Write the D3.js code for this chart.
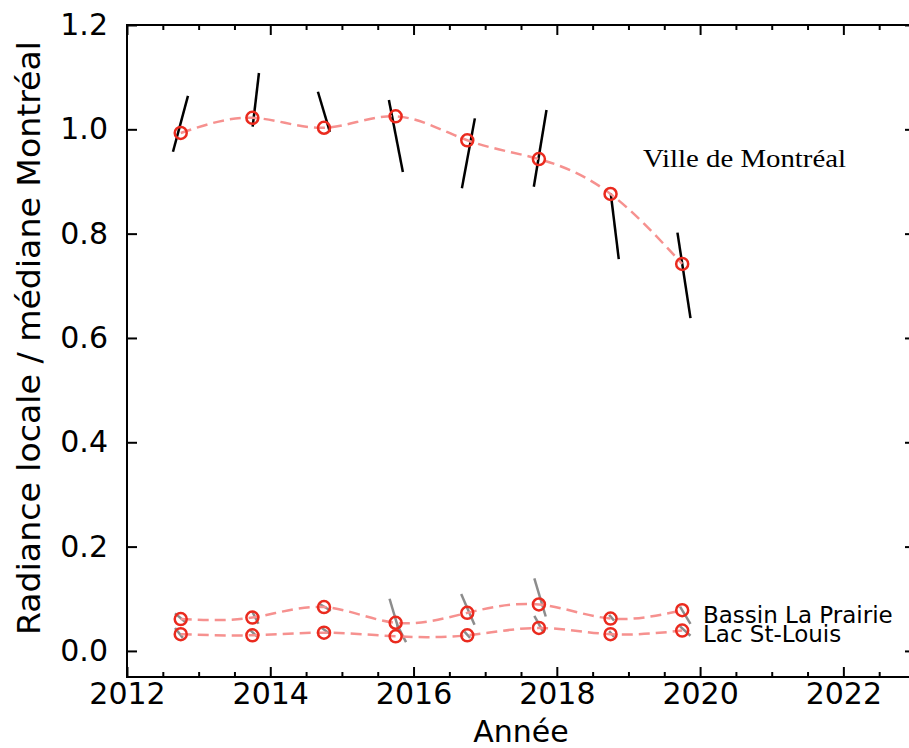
<!DOCTYPE html>
<html>
<head>
<meta charset="utf-8">
<script src="https://cdn.jsdelivr.net/npm/d3@7"></script>
<style>
  html, body { margin: 0; padding: 0; background: #fff; }
  svg { display: block; }
  .tick text { font-family: "DejaVu Sans", sans-serif; }
</style>
</head>
<body>
<svg id="chart" width="909" height="748"></svg>
<script>
// Observation years (measurement taken in autumn of each year)
const years = [2012.75, 2013.75, 2014.75, 2015.75, 2016.75, 2017.75, 2018.75, 2019.75];

// Local radiance divided by Montréal median
const villeValues  = [0.993, 1.022, 1.003, 1.025, 0.979, 0.943, 0.876, 0.742];
const bassinValues = [0.061, 0.064, 0.084, 0.054, 0.073, 0.089, 0.062, 0.078];
const lacValues    = [0.032, 0.030, 0.035, 0.028, 0.030, 0.044, 0.032, 0.039];

// Short within-year trend segments: [yearStart, valueStart, yearEnd, valueEnd]
const villeSegments = [
  [2012.642, 0.957, 2012.851, 1.064],
  [2013.754, 1.005, 2013.842, 1.108],
  [2014.665, 1.072, 2014.832, 0.995],
  [2015.656, 1.056, 2015.851, 0.918],
  [2016.856, 1.021, 2016.675, 0.887],
  [2017.856, 1.037, 2017.679, 0.890],
  [2018.753, 0.877, 2018.865, 0.751],
  [2019.684, 0.802, 2019.866, 0.638]
];
const bassinSegments = [
  [2012.67, 0.072, 2012.81, 0.056],
  [2013.75, 0.075, 2013.835, 0.052],
  [2014.69, 0.090, 2014.845, 0.077],
  [2015.665, 0.100, 2015.795, 0.040],
  [2016.665, 0.109, 2016.851, 0.050],
  [2017.686, 0.139, 2017.845, 0.066],
  [2018.73, 0.069, 2018.80, 0.058],
  [2019.72, 0.085, 2019.866, 0.052]
];
const lacSegments = [
  [2012.67, 0.044, 2012.78, 0.025],
  [2013.72, 0.040, 2013.82, 0.027],
  [2014.72, 0.044, 2014.83, 0.033],
  [2015.77, 0.050, 2015.895, 0.017],
  [2016.71, 0.037, 2016.79, 0.025],
  [2017.686, 0.067, 2017.82, 0.034],
  [2018.73, 0.038, 2018.80, 0.027],
  [2019.72, 0.047, 2019.866, 0.029]
];

const xTicks = [2012, 2014, 2016, 2018, 2020, 2022];
const xMinorTicks = [2012.5, 2013, 2013.5, 2014.5, 2015, 2015.5, 2016.5, 2017, 2017.5,
                     2018.5, 2019, 2019.5, 2020.5, 2021, 2021.5, 2022.5, 2023];
const yTicks = [0.0, 0.2, 0.4, 0.6, 0.8, 1.0, 1.2];

const seriesLabels = ["Ville de Montréal", "Bassin La Prairie", "Lac St-Louis"];
const xTitle = "Année";
const yTitle = "Radiance locale / médiane Montréal";

const svg = d3.select("#chart");
const mLeft = 127, mRight = 915, mTop = 25, mBottom = 677;

const x = d3.scaleLinear().domain([2012, 2023]).range([mLeft, mRight]);
const y = d3.scaleLinear().domain([-0.05, 1.2]).range([mBottom, mTop]);

const tickFont = 30;

// Axes with inward ticks on all four sides
svg.append("g").attr("transform", `translate(0,${mBottom})`)
  .call(d3.axisBottom(x).tickValues(xTicks).tickFormat(d3.format("d"))
    .tickSizeInner(-10).tickSizeOuter(0).tickPadding(6));
svg.append("g").attr("transform", `translate(0,${mBottom})`)
  .call(d3.axisBottom(x).tickValues(xMinorTicks).tickFormat("")
    .tickSizeInner(-5).tickSizeOuter(0));
svg.append("g").attr("transform", `translate(0,${mTop})`)
  .call(d3.axisTop(x).tickValues(xTicks).tickFormat("").tickSizeInner(-10).tickSizeOuter(0));
svg.append("g").attr("transform", `translate(0,${mTop})`)
  .call(d3.axisTop(x).tickValues(xMinorTicks).tickFormat("")
    .tickSizeInner(-5).tickSizeOuter(0));
svg.append("g").attr("transform", `translate(${mLeft},0)`)
  .call(d3.axisLeft(y).tickValues(yTicks).tickFormat(d3.format(".1f"))
    .tickSizeInner(-10).tickSizeOuter(0).tickPadding(19));
svg.append("g").attr("transform", `translate(${mRight},0)`)
  .call(d3.axisRight(y).tickValues(yTicks).tickFormat("").tickSizeInner(-10).tickSizeOuter(0));

svg.selectAll(".domain").remove();
svg.selectAll(".tick line").attr("stroke", "#000").attr("stroke-width", 2);
svg.selectAll(".tick text").attr("font-size", tickFont).attr("fill", "#000");

// Frame
svg.append("rect")
  .attr("x", mLeft).attr("y", mTop)
  .attr("width", mRight - mLeft).attr("height", mBottom - mTop)
  .attr("fill", "none").attr("stroke", "#000").attr("stroke-width", 2);

// Axis titles
svg.append("text")
  .attr("x", (mLeft + mRight) / 2).attr("y", 742)
  .attr("text-anchor", "middle")
  .attr("font-family", "DejaVu Sans, sans-serif").attr("font-size", tickFont)
  .text(xTitle);
svg.append("text")
  .attr("transform", "translate(40,338) rotate(-90)")
  .attr("text-anchor", "middle")
  .attr("font-family", "DejaVu Sans, sans-serif").attr("font-size", 32)
  .attr("textLength", 594).attr("lengthAdjust", "spacingAndGlyphs")
  .text(yTitle);

const plot = svg.append("g");

// Trend segments
function drawSegments(segs, color) {
  plot.append("g").selectAll("line").data(segs).join("line")
    .attr("x1", d => x(d[0])).attr("y1", d => y(d[1]))
    .attr("x2", d => x(d[2])).attr("y2", d => y(d[3]))
    .attr("stroke", color).attr("stroke-width", 2.5);
}
drawSegments(villeSegments, "#000");
drawSegments(bassinSegments, "#8c8c8c");
drawSegments(lacSegments, "#8c8c8c");

// Smoothed dashed curves and open markers
const line = d3.line().x(d => x(d[0])).y(d => y(d[1])).curve(d3.curveNatural);
[villeValues, bassinValues, lacValues].forEach(vals => {
  const pts = years.map((yr, i) => [yr, vals[i]]);
  plot.append("path").datum(pts)
    .attr("d", line)
    .attr("fill", "none")
    .attr("stroke", "#f6918f")
    .attr("stroke-width", 2.5)
    .attr("stroke-dasharray", "11,6");
});
[villeValues, bassinValues, lacValues].forEach(vals => {
  plot.append("g").selectAll("circle").data(years.map((yr, i) => [yr, vals[i]])).join("circle")
    .attr("cx", d => x(d[0])).attr("cy", d => y(d[1]))
    .attr("r", 6)
    .attr("fill", "none")
    .attr("stroke", "#ea2a1e")
    .attr("stroke-width", 2.5);
});

// Series labels
svg.append("text")
  .attr("x", 643).attr("y", 167)
  .attr("font-family", "Liberation Serif, serif").attr("font-size", 25)
  .attr("textLength", 203).attr("lengthAdjust", "spacingAndGlyphs")
  .text(seriesLabels[0]);
svg.append("text")
  .attr("x", 703).attr("y", 623)
  .attr("font-family", "DejaVu Sans, sans-serif").attr("font-size", 23)
  .text(seriesLabels[1]);
svg.append("text")
  .attr("x", 703).attr("y", 642)
  .attr("font-family", "DejaVu Sans, sans-serif").attr("font-size", 23)
  .text(seriesLabels[2]);
</script>
</body>
</html>
